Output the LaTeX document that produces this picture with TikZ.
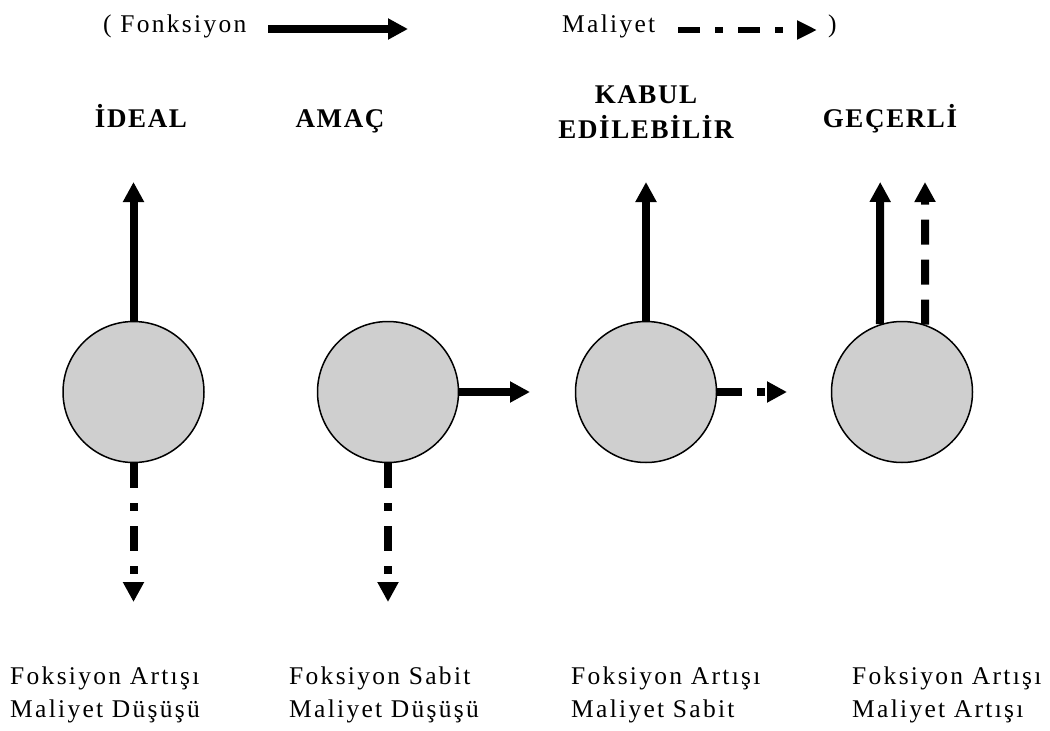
\documentclass[tikz,border=0pt]{standalone}
\usepackage{fontspec}
\setmainfont{Liberation Serif}[LetterSpace=9]
\newfontfamily\headfont{Liberation Serif}[LetterSpace=6]
\usetikzlibrary{arrows.meta}

\tikzset{
  ball/.style={circle, draw=black, line width=1.5pt, fill=black!19,
    minimum size=141pt, inner sep=0pt},
  heading/.style={font=\headfont\bfseries\fontsize{27}{35}\selectfont,
    inner sep=0pt, anchor=base},
  note/.style={font=\fontsize{25.5}{33}\selectfont,
    inner sep=0pt, anchor=base west},
  bigtip/.style={-{Triangle[length=20pt,width=20pt]}},
  gain/.style={line width=8pt, bigtip},
  cost/.style={line width=8pt, dash pattern=on 25pt off 15pt on 8pt off 15pt, bigtip},
  costdash/.style={line width=8pt, dash pattern=on 25pt off 15pt, bigtip},
}

\begin{document}
\begin{tikzpicture}[x=1pt,y=-1pt]
  \useasboundingbox (0,0) rectangle (1050,731);
  \fill[white] (0,0) rectangle (1050,731);

  % legend
  \node[note] (lfonk) at (103,32) {( Fonksiyon};
  \coordinate (lfa) at (268,29);
  \coordinate (lfb) at (408,29);
  \draw[gain] (lfa) -- (lfb);
  \node[note] (lmal) at (562,32) {Maliyet};
  \coordinate (lma) at (678,30);
  \coordinate (lmb) at (817,30);
  \draw[line width=6pt, dash pattern=on 22pt off 15pt on 8pt off 15pt,
        -{Triangle[length=20pt,width=18pt]}] (lma) -- (lmb);
  \node[note] (lclose) at (828,32) {)};

  % headings
  \node[heading] (h1) at (141,127) {İDEAL};
  \node[heading] (h2) at (340,127) {AMAÇ};
  \node[heading] (h3a) at (646,103) {KABUL};
  \node[heading] (h3b) at (646,138) {EDİLEBİLİR};
  \node[heading] (h4) at (890,127) {GEÇERLİ};

  % circles
  \node[ball] (c1) at (133.5,392) {};
  \node[ball] (c2) at (388,392) {};
  \node[ball] (c3) at (646,392) {};
  \node[ball] (c4) at (902,392) {};

  % arrow ends
  \coordinate (t1) at (133.5,182);
  \coordinate (b1) at (133.5,602);
  \coordinate (r2) at (530,392);
  \coordinate (b2) at (388,602);
  \coordinate (t3) at (646,182);
  \coordinate (r3) at (787,392);
  \coordinate (t4a) at (880.2,182);
  \coordinate (t4b) at (925,182);

  \draw[gain] (c1.north) -- (t1);
  \draw[cost] (c1.south) -- (b1);
  \draw[gain] (c2.east) -- (r2);
  \draw[cost] (c2.south) -- (b2);
  \draw[gain] (c3.north) -- (t3);
  \draw[cost] (c3.east) -- (r3);
  \draw[gain] (c4.108) -- (t4a);
  \draw[costdash] (c4.71) -- (t4b);

  % captions under each case
  \node[note] (n1a) at (10,684) {Foksiyon Artışı};
  \node[note] (n1b) at (10,717) {Maliyet Düşüşü};
  \node[note] (n2a) at (289,684) {Foksiyon Sabit};
  \node[note] (n2b) at (289,717) {Maliyet Düşüşü};
  \node[note] (n3a) at (571,684) {Foksiyon Artışı};
  \node[note] (n3b) at (571,717) {Maliyet Sabit};
  \node[note] (n4a) at (852,684) {Foksiyon Artışı};
  \node[note] (n4b) at (852,717) {Maliyet Artışı};
\end{tikzpicture}
\end{document}
